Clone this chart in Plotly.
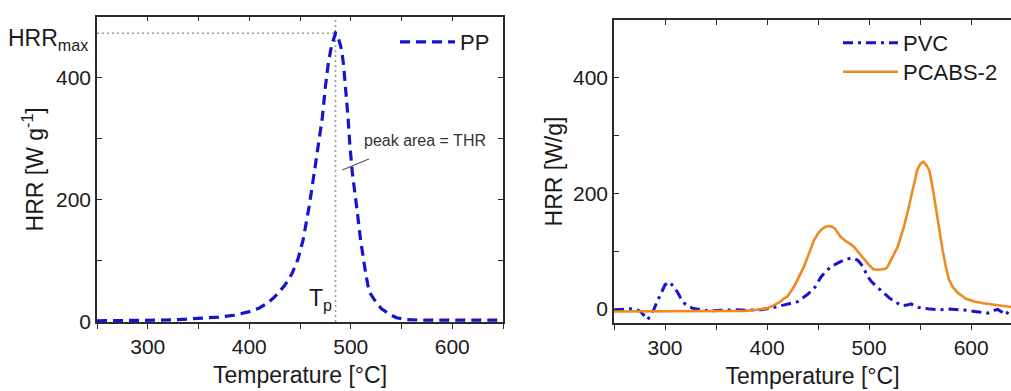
import plotly.graph_objects as go

# ---------------- data ----------------
temp_pp = [250, 270, 290, 310, 330, 350, 370, 385, 392, 400, 410, 418, 425, 435, 442, 448, 453,
           459, 464, 469, 472, 475, 478, 481, 483, 485, 487, 489, 491, 493, 495, 497.5, 499.2,
           501.6, 505.8, 509.7, 514.7, 518, 523, 530, 539, 545, 555, 570, 600, 625, 650]
hrr_pp = [2, 2, 3, 3, 4, 6, 8, 11, 14, 17, 23, 31, 41, 60, 79, 103, 134,
          189, 244, 299, 335, 385, 425, 452, 465, 473, 470, 460, 446, 420, 386, 331, 288,
          244, 189, 134, 80, 50, 37, 22, 12, 7, 4, 3, 3, 3, 3]

temp_pvc = [250, 258, 266, 272, 276, 280, 283, 286, 289, 292, 296, 300, 304, 308, 312, 315, 319,
            324, 328, 335, 343, 355, 369, 380, 394, 402, 410, 420, 430, 440, 447, 453, 458, 463,
            468, 472, 477, 482, 486, 489, 492, 495, 498, 502, 508, 514, 520, 527, 532, 537, 541,
            546, 551, 560, 570, 578, 587, 595, 603, 609, 616, 621, 626, 630, 634, 637, 640]
hrr_pvc = [-1, 0, 0.5, -1, -4, -12, -18, -10, -1, 12, 28, 42, 47, 40, 30, 20, 10,
           4, 1, -1, -3, -2, -1, -2, -1, 1, 4.6, 8, 13, 26, 38, 56, 66, 74,
           79, 82, 86, 88, 87, 84, 78, 70, 58, 48, 38, 28, 19, 11, 6, 7, 9,
           4, 2, 0, -1, 0, -0.5, -2, -4, -5, -7, -3, -0.5, -5, -10, -2, 4]

temp_pcabs = [250, 300, 350, 378, 390, 400, 407, 413, 417, 420, 426.5, 431, 436, 441, 446, 450,
              454, 458, 461, 464, 466, 469, 472, 476, 479, 482, 485, 490, 495, 500, 504, 508,
              513, 516, 518, 522, 525, 528, 531, 534, 538, 541, 544, 547, 550, 553, 556, 559,
              562, 565, 568, 572, 575, 578, 582, 587, 595, 603, 612, 622, 630, 640]
hrr_pcabs = [-4, -4, -4, -3, -1, 1.7, 7, 13, 19, 22, 39, 55, 73, 96, 119, 131,
             139, 143, 143.6, 142, 140, 133, 125, 119, 116, 112, 108, 97, 85, 76, 69, 68,
             69, 70, 73, 86, 97, 108, 125, 142, 170, 194, 220, 240, 251, 255, 249, 240,
             212, 177, 145, 102, 75, 52, 38, 28, 18, 13, 10, 7.5, 5.5, 3.5]

HRR_MAX = 473
T_PEAK = 485

x_tick_vals = [250, 300, 350, 400, 450, 500, 550, 600, 650]
x_tick_text = ["", "300", "", "400", "", "500", "", "600", ""]
y_tick_vals = [0, 100, 200, 300, 400]
y_tick_text = ["0", "", "200", "", "400"]

# ---------------- styling ----------------
W, H = 1011, 391
FONT = "Liberation Sans, Arial, sans-serif"
TXT = "#1a1a1a"
AX = "#2b2b2b"
BLUE = "#1515d0"
ORANGE = "#ee8a1f"
GREY = "#9a9a9a"


def px_x(p):
    return p / W


def px_y(p):
    return 1 - p / H


fig = go.Figure()

fig.add_trace(go.Scatter(x=temp_pp, y=hrr_pp, name="PP", mode="lines",
                         line=dict(color=BLUE, width=3.2, dash="10px,6px"),
                         xaxis="x", yaxis="y", legend="legend"))
fig.add_trace(go.Scatter(x=temp_pvc, y=hrr_pvc, name="PVC", mode="lines",
                         line=dict(color=BLUE, width=3, dash="10px,5px,3px,5px"),
                         xaxis="x2", yaxis="y2", legend="legend2"))
fig.add_trace(go.Scatter(x=temp_pcabs, y=hrr_pcabs, name="PCABS-2", mode="lines",
                         line=dict(color=ORANGE, width=2.6),
                         xaxis="x2", yaxis="y2", legend="legend3"))
# empty traces so that the top (overlay) axes are drawn
fig.add_trace(go.Scatter(x=[], y=[], xaxis="x3", yaxis="y", showlegend=False, hoverinfo="skip"))
fig.add_trace(go.Scatter(x=[], y=[], xaxis="x4", yaxis="y2", showlegend=False, hoverinfo="skip"))

tickfont = dict(family=FONT, size=21, color=TXT)
titlefont = dict(family=FONT, size=23, color=TXT)

common_x = dict(tickmode="array", tickvals=x_tick_vals, ticktext=x_tick_text, automargin=False,
                showgrid=False, zeroline=False, showline=True, linecolor=AX, linewidth=1.5,
                ticks="outside", ticklen=5, tickwidth=1.2, tickcolor=AX, tickfont=tickfont,
                title=dict(text="Temperature [°C]", font=titlefont, standoff=10))
common_y = dict(tickmode="array", tickvals=y_tick_vals, ticktext=y_tick_text, automargin=False,
                showgrid=False, zeroline=False, showline=True, linecolor=AX, linewidth=1.5,
                ticks="inside", ticklen=5, tickwidth=1.2, tickcolor=AX, tickfont=tickfont)
top_x = dict(tickmode="array", tickvals=x_tick_vals, ticktext=["" for _ in x_tick_vals],
             showgrid=False, zeroline=False, showline=True, linecolor=AX, linewidth=1.5,
             ticks="inside", ticklen=5, tickwidth=1.2, tickcolor=AX, showticklabels=False,
             side="top", automargin=False)

legend_font = dict(family=FONT, size=22, color=TXT)

fig.update_layout(
    width=W, height=H,
    margin=dict(l=0, r=0, t=0, b=0, autoexpand=False),
    paper_bgcolor="white", plot_bgcolor="white",
    font=dict(family=FONT, color=TXT),
    xaxis=dict(domain=[px_x(97), px_x(503)], range=[250, 650], anchor="y", **common_x),
    yaxis=dict(domain=[px_y(322), px_y(16.7)], range=[0, 500], anchor="x", mirror="ticks",
               title=dict(text="HRR [W g<sup>-1</sup>]", font=titlefont, standoff=6),
               **common_y),
    xaxis2=dict(domain=[px_x(614), 1.0], range=[250, 639], anchor="y2", **common_x),
    yaxis2=dict(domain=[px_y(323), px_y(20)], range=[-24, 500], anchor="x2",
                title=dict(text="HRR [W/g]", font=titlefont, standoff=4),
                **common_y),
    xaxis3=dict(overlaying="x", anchor="y", range=[250, 650], **top_x),
    xaxis4=dict(overlaying="x2", anchor="y2", range=[250, 639], **top_x),
    legend=dict(x=px_x(395), y=px_y(42), xanchor="left", yanchor="middle",
                bgcolor="rgba(0,0,0,0)", font=legend_font, itemwidth=55),
    legend2=dict(x=px_x(838), y=px_y(43), xanchor="left", yanchor="middle",
                 bgcolor="rgba(0,0,0,0)", font=legend_font, itemwidth=55),
    legend3=dict(x=px_x(838), y=px_y(72), xanchor="left", yanchor="middle",
                 bgcolor="rgba(0,0,0,0)", font=legend_font, itemwidth=55),
    showlegend=True,
)

# reference lines for HRRmax and Tp
fig.add_shape(type="line", xref="x", yref="y", x0=250, x1=T_PEAK, y0=HRR_MAX, y1=HRR_MAX,
              line=dict(color=GREY, width=1.6, dash="2px,3px"), layer="below")
fig.add_shape(type="line", xref="x", yref="y", x0=T_PEAK, x1=T_PEAK, y0=0, y1=500,
              line=dict(color=GREY, width=1.6, dash="2px,3px"), layer="below")
# leader line for peak area annotation
fig.add_shape(type="line", xref="x", yref="y", x0=491.7, y0=249, x1=517.9, y1=267,
              line=dict(color="#555555", width=1.1))

fig.add_annotation(xref="paper", yref="paper", x=px_x(90), y=px_y(40), xanchor="right",
                   yanchor="middle", showarrow=False,
                   text="HRR<sub>max</sub>", font=dict(family=FONT, size=23, color=TXT))
fig.add_annotation(xref="x", yref="y", x=470, y=37, xanchor="center", yanchor="middle",
                   showarrow=False, text="T<sub>p</sub>",
                   font=dict(family=FONT, size=23, color=TXT))
fig.add_annotation(xref="x", yref="y", x=573.6, y=297, xanchor="center", yanchor="middle",
                   showarrow=False, text="peak area = THR",
                   font=dict(family=FONT, size=16, color="#333333"))

fig.write_html("out.html")
